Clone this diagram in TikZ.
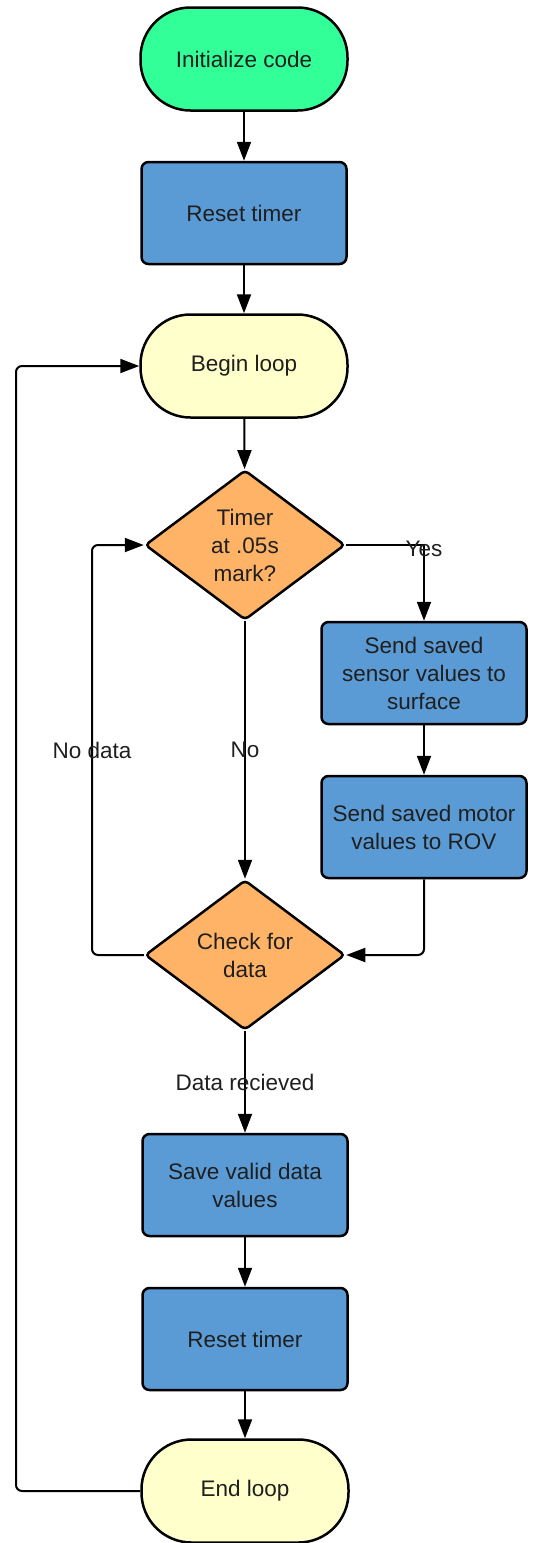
\documentclass[tikz,border=0pt]{standalone}
\usepackage{fontspec}
\setmainfont{Liberation Sans}
\usetikzlibrary{shapes.geometric,arrows.meta}
\definecolor{termgreen}{RGB}{51,255,153}
\definecolor{procblue}{RGB}{91,155,213}
\definecolor{loopyellow}{RGB}{255,255,204}
\definecolor{decorange}{RGB}{255,179,102}

\begin{document}
\begin{tikzpicture}[x=1pt,y=-1pt,
    every node/.style={font=\fontsize{22.5}{28}\selectfont, text=black!88},
    base/.style={draw=black, line width=2.5pt, align=center, inner sep=0pt},
    terminal/.style={base, rounded corners=50pt, minimum width=207pt, minimum height=103pt},
    process/.style={base, rounded corners=7pt, minimum width=205pt, minimum height=102pt, fill=procblue},
    decision/.style={base, diamond, rounded corners=4pt, aspect=1.333, minimum width=200pt, minimum height=150pt, fill=decorange},
    arr/.style={line width=2pt, -{Triangle[length=19pt,width=14pt]}},
    lbl/.style={inner sep=1pt}]
  \useasboundingbox (0,0) rectangle (534,1543);

  % main column
  \node[terminal, fill=termgreen] (init) at (244,59) {Initialize code};
  \node[process] (reset1) at (244,213) {Reset timer};
  \node[terminal, fill=loopyellow] (begin) at (244,366) {Begin loop};
  \node[decision] (timer) at (245,545) {Timer\\at .05s\\mark?};
  \node[decision] (check) at (245,955) {Check for\\data};
  \node[process] (save) at (245,1185) {Save valid data\\values};
  \node[process] (reset2) at (245,1339) {Reset timer};
  \node[terminal, fill=loopyellow] (endl) at (245,1491) {End loop};

  % right column
  \node[process] (sensor) at (424,673) {Send saved\\sensor values to\\surface};
  \node[process] (motor) at (424,827) {Send saved motor\\values to ROV};

  \coordinate (nodata) at (92,955);
  \coordinate (loopback) at (16,1491);

  \draw[arr] (init) -- (reset1);
  \draw[arr] (reset1) -- (begin);
  \draw[arr] (begin) -- (timer);
  \draw[arr] (timer.east) -| node[lbl, pos=0.5, yshift=-4pt] {Yes} (sensor.north);
  \draw[arr] (sensor) -- (motor);
  \draw[arr, rounded corners=6pt] (motor.south) |- (check.east);
  \draw[arr] (timer) -- node[lbl] {No} (check);
  \draw[arr, rounded corners=6pt] (check.west) -- (nodata) -- node[lbl] {No data} (nodata |- timer.west) -- (timer.west);
  \draw[arr] (check) -- node[lbl] {Data recieved} (save);
  \draw[arr] (save) -- (reset2);
  \draw[arr] (reset2) -- (endl);
  \draw[arr, rounded corners=6pt] (endl.west) -- (loopback) |- (begin.west);
\end{tikzpicture}
\end{document}
